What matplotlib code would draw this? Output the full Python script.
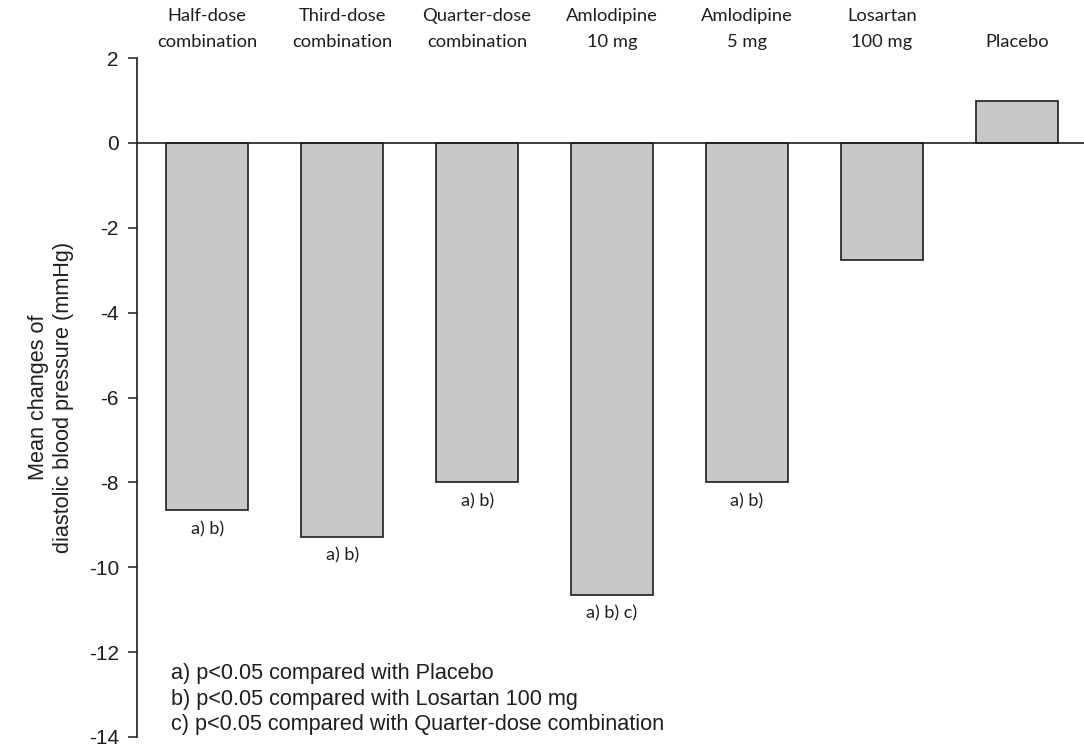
import matplotlib
matplotlib.use("Agg")
import matplotlib.pyplot as plt
import matplotlib.transforms as mtransforms

categories = ["Half-dose\ncombination", "Third-dose\ncombination", "Quarter-dose\ncombination",
              "Amlodipine\n10 mg", "Amlodipine\n5 mg", "Losartan\n100 mg", "Placebo"]
values = [-8.66, -9.28, -8.0, -10.65, -8.0, -2.76, 0.99]
significance = ["a) b)", "a) b)", "a) b)", "a) b) c)", "a) b)", "", ""]
y_ticks = [2, 0, -2, -4, -6, -8, -10, -12, -14]
footnotes = ["a) p<0.05 compared with Placebo",
             "b) p<0.05 compared with Losartan 100 mg",
             "c) p<0.05 compared with Quarter-dose combination"]
y_label = "Mean changes of\ndiastolic blood pressure (mmHg)"

W, H = 1084, 747
fig = plt.figure(figsize=(W / 100, H / 100), dpi=100)
ax = fig.add_axes([137 / W, 10 / H, (W - 137) / W, 679 / H])

arial = "Liberation Sans"
calibri = "Lato"
ink = "#1e1e1e"

x = list(range(len(values)))
ax.bar(x, values, width=0.608, color="#c8c8c8", edgecolor=ink, linewidth=1.2, zorder=2)
ax.axhline(0, color=ink, linewidth=1.2, zorder=3)

ax.set_xlim(-0.5203, 6.498)
ax.set_ylim(-14, 2)
ax.set_yticks(y_ticks)
ax.set_yticklabels([str(t) for t in y_ticks], fontfamily=arial, fontsize=15, color=ink)
ax.tick_params(axis="y", direction="out", length=6.5, width=1.1, pad=6.5, colors=ink)
ax.set_xticks([])
for s in ["top", "right", "bottom"]:
    ax.spines[s].set_visible(False)
ax.spines["left"].set_linewidth(1.2)
ax.spines["left"].set_color(ink)

ax.set_ylabel(y_label, fontfamily=arial, fontsize=15.6, color=ink, linespacing=1.28)
ax.yaxis.set_label_coords(-0.066, 0.5)

# category labels at top
trans = mtransforms.blended_transform_factory(ax.transData, fig.transFigure)
base1 = 1 - 20.7 / H
base2 = 1 - 46.7 / H
for xi, cat in zip(x, categories):
    lines = cat.split("\n")
    if len(lines) == 2:
        ax.text(xi, base1, lines[0], transform=trans, ha="center", va="baseline",
                fontfamily=calibri, fontsize=13.2, color=ink)
    ax.text(xi, base2, lines[-1], transform=trans, ha="center", va="baseline",
            fontfamily=calibri, fontsize=13.2, color=ink)

# significance annotations below bars
for xi, v, sig in zip(x, values, significance):
    if sig:
        ax.annotate(sig, xy=(xi, v), xytext=(0, -13.5), textcoords="offset points",
                    ha="center", va="center", fontfamily=calibri, fontsize=13, color=ink)

# footnotes
for i, note in enumerate(footnotes):
    fig.text(171 / W, 1 - (679.3 + 25.3 * i) / H, note, ha="left", va="baseline",
             fontfamily=arial, fontsize=15.6, color=ink)

fig.savefig("out.png", dpi=100)
